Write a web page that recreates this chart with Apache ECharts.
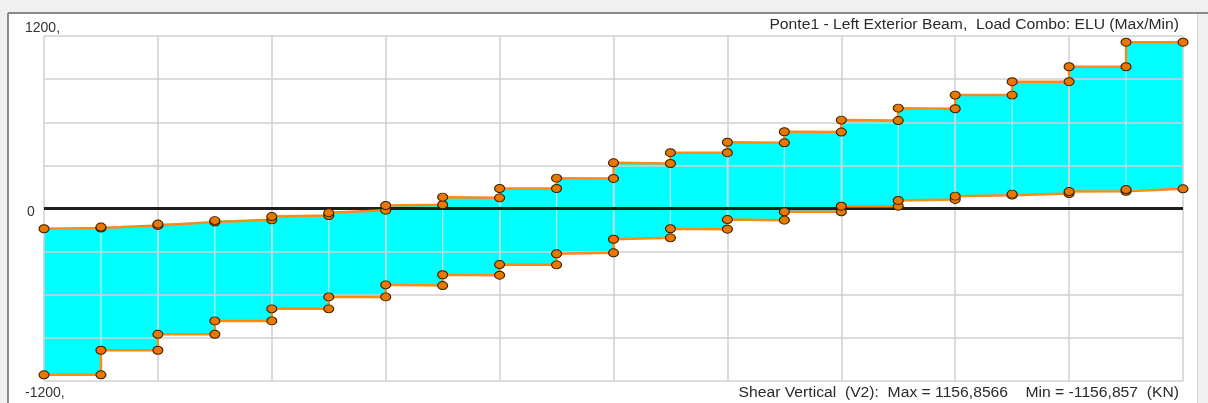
<!DOCTYPE html>
<html>
<head>
<meta charset="utf-8">
<script src="https://cdn.jsdelivr.net/npm/echarts@6/dist/echarts.min.js"></script>
<style>
html,body{margin:0;padding:0;background:#f0f0f0;}
#chart{width:1208px;height:403px;}
</style>
</head>
<body>
<div id="chart"></div>
<script>
// Stations along the beam (segment boundaries)
const stations = [0,1,2,3,4,5,6,7,8,9,10,11,12,13,14,15,16,17,18,19,20];
// Max envelope: value at start / end of each segment
const maxStart = [-141,-129,-108,-84,-56,-30,21,79,139,211,318,388,461,534,615,698,789,882,986,1156.8566];
const maxEnd   = [-136,-118,-94,-79,-49,-12,26,74,139,209,313,388,457,532,612,694,789,882,986,1156.8566];
// Min envelope: value at start / end of each segment
const minStart = [-1156.857,-986,-875,-782,-698,-615,-531,-461,-390,-315,-214,-141,-77,-23,16,56,86,100,118,132];
const minEnd   = [-1156.857,-986,-875,-782,-698,-615,-536,-464,-392,-308,-204,-144,-81,-23,16,63,93,104,120,137];
// Y tick labels shown
const yTickLabels = {"1200": "1200,", "0": "0", "-1200": "-1200,"};
const titleText = "Ponte1 - Left Exterior Beam,  Load Combo: ELU (Max/Min)";
const footerText = "Shear Vertical  (V2):  Max = 1156,8566    Min = -1156,857  (KN)";

function envelopePoints(starts, ends) {
  const pts = [];
  for (let i = 0; i < starts.length; i++) {
    pts.push([stations[i], starts[i]]);
    pts.push([stations[i + 1], ends[i]]);
  }
  return pts;
}
const fillData = maxStart.map((v, i) => [stations[i], stations[i + 1], v, maxEnd[i], minStart[i], minEnd[i]]);

const chart = echarts.init(document.getElementById('chart'), null, {renderer: 'canvas'});
const FONT = 'Liberation Sans, Arial, sans-serif';
const STRETCH = 1.12;

const lineStyleCommon = {color: '#ff8a14', width: 2.5};
const itemStyleCommon = {color: '#e97800', borderColor: '#3a1d00', borderWidth: 1};

chart.setOption({
  backgroundColor: '#f0f0f0',
  animation: false,
  graphic: [
    {type: 'rect', z: -10, shape: {x: 8, y: 13, width: 1190, height: 392}, style: {fill: '#ffffff', stroke: null}, silent: true},
    {type: 'line', z: -9, shape: {x1: 8, y1: 13, x2: 1208, y2: 13}, style: {stroke: '#8a8a8a', lineWidth: 2}, silent: true},
    {type: 'line', z: -9, shape: {x1: 8, y1: 13, x2: 8, y2: 403}, style: {stroke: '#8a8a8a', lineWidth: 2}, silent: true},
    {type: 'line', z: -9, shape: {x1: 1197.5, y1: 14, x2: 1197.5, y2: 403}, style: {stroke: '#d8d8d8', lineWidth: 1}, silent: true},
    {type: 'text', z: 10, x: 1179, y: 25, scaleX: STRETCH, silent: true,
     style: {text: titleText, align: 'right', verticalAlign: 'middle', fontFamily: FONT, fontSize: 14, fill: '#2a2a2a'}},
    {type: 'text', z: 10, x: 1179, y: 393, scaleX: STRETCH, silent: true,
     style: {text: footerText, align: 'right', verticalAlign: 'middle', fontFamily: FONT, fontSize: 14, fill: '#2a2a2a'}}
  ],
  grid: {left: 44, top: 36, width: 1139, height: 345, containLabel: false},
  xAxis: {
    type: 'value', min: 0, max: 20, interval: 2, z: 3,
    axisLine: {show: false}, axisTick: {show: false}, axisLabel: {show: false},
    splitLine: {show: true, lineStyle: {color: '#d0d0d0', width: 1.5}}
  },
  yAxis: {
    type: 'value', min: -1200, max: 1200, interval: 300, z: 3,
    axisLine: {show: false}, axisTick: {show: false},
    splitLine: {show: true, lineStyle: {color: '#d0d0d0', width: 1.5}},
    axisLabel: {
      show: true, showMinLabel: true, showMaxLabel: true, align: 'left', margin: 19,
      fontFamily: FONT, fontSize: 14, color: '#333',
      formatter: function (v) {
        const t = yTickLabels[String(v)];
        if (t === undefined) return '';
        if (v > 0) return '{t|' + t + '}';
        if (v < 0) return '{b|' + t + '}';
        return '{z|' + t + '}';
      },
      rich: {
        t: {fontFamily: FONT, fontSize: 14, color: '#333', padding: [0, 0, 16, 0]},
        b: {fontFamily: FONT, fontSize: 14, color: '#333', padding: [24, 0, 0, 0]},
        z: {fontFamily: FONT, fontSize: 14, color: '#333', padding: [7, 0, 0, 2]}
      }
    }
  },
  series: [
    {
      type: 'custom', z: 1, silent: true,
      data: fillData,
      encode: {x: [0, 1], y: [2, 3, 4, 5]},
      renderItem: function (params, api) {
        const x0 = api.value(0), x1 = api.value(1);
        const p1 = api.coord([x0, api.value(2)]);
        const p2 = api.coord([x1, api.value(3)]);
        const p3 = api.coord([x1, api.value(5)]);
        const p4 = api.coord([x0, api.value(4)]);
        const children = [{
          type: 'polygon', shape: {points: [p1, p2, p3, p4]},
          style: {fill: '#00ffff', stroke: '#00ffff', lineWidth: 0.5}
        }];
        if (params.dataIndex > 0) {
          children.push({
            type: 'line', shape: {x1: p1[0], y1: p1[1], x2: p4[0], y2: p4[1]},
            style: {stroke: '#b0ffff', lineWidth: 1.2}
          });
        }
        return {type: 'group', children: children};
      }
    },
    {
      type: 'line', z: 4, silent: true, symbol: 'none',
      data: [[stations[0], 0], [stations[stations.length - 1], 0]],
      lineStyle: {color: '#1e1e1e', width: 3}
    },
    {
      name: 'Max', type: 'line', z: 5, silent: true,
      data: envelopePoints(maxStart, maxEnd),
      symbol: 'circle', symbolSize: [10, 8], showAllSymbol: true,
      lineStyle: lineStyleCommon, itemStyle: itemStyleCommon
    },
    {
      name: 'Min', type: 'line', z: 5, silent: true,
      data: envelopePoints(minStart, minEnd),
      symbol: 'circle', symbolSize: [10, 8], showAllSymbol: true,
      lineStyle: lineStyleCommon, itemStyle: itemStyleCommon
    }
  ]
});
</script>
</body>
</html>
